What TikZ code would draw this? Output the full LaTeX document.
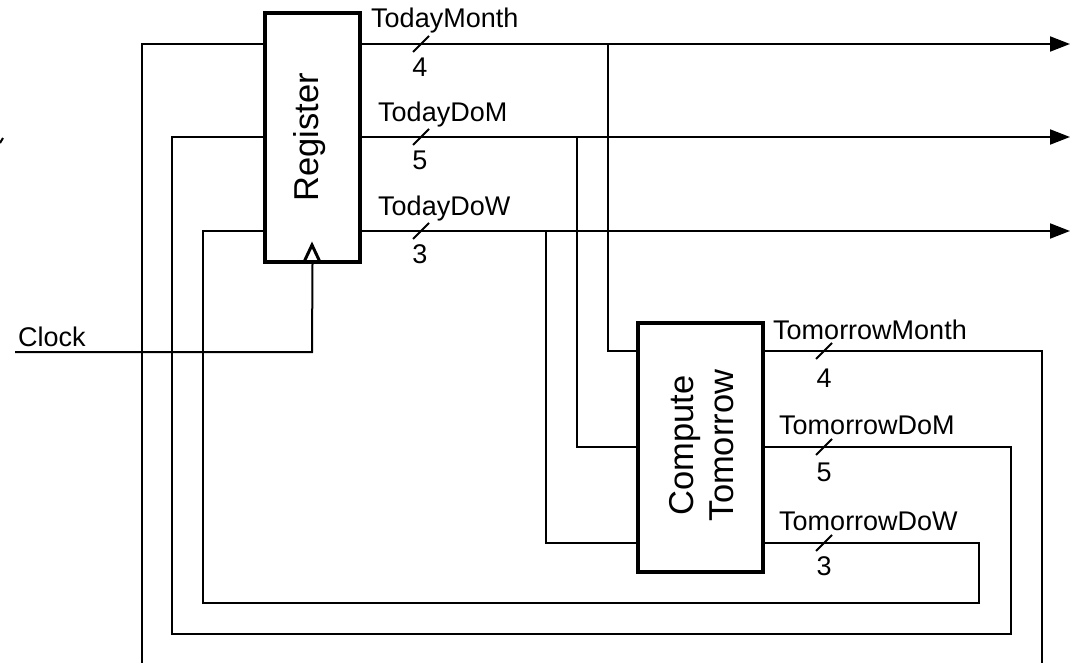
\documentclass[tikz,border=0pt]{standalone}
\usepackage{fontspec}
\setmainfont{Liberation Sans}
\usetikzlibrary{arrows.meta,calc}
\begin{document}
\begin{tikzpicture}[x=1pt,y=-1pt,
  wire/.style={line width=2pt},
  outarrow/.style={line width=2pt,-{Triangle[length=20pt,width=15pt]}},
  blockbox/.style={draw,line width=4pt,inner sep=0pt},
  lbl/.style={anchor=base west,inner sep=0pt,font=\fontsize{27}{32}\selectfont},
  numlbl/.style={inner sep=0pt,font=\fontsize{27}{32}\selectfont},
  boxtext/.style={rotate=90,align=center,inner sep=0pt,font=\fontsize{34.5}{40}\selectfont}]
\useasboundingbox (0,0) rectangle (1071,663);
% blocks
\node[blockbox,minimum width=95pt,minimum height=249pt] (reg) at (312.5,137.5) {};
\node[boxtext] (regt) at (310,137.5) {Register};
\node[blockbox,minimum width=125pt,minimum height=249pt] (comp) at (700.5,447.5) {};
\node[boxtext] (compt) at (701.5,445.5) {Compute\\Tomorrow};
% clock triangle
\draw[line width=3pt,line join=miter] (304,262) -- (312,245) -- (320,262);
% coordinates
\coordinate (oM) at (1070,44);
\coordinate (oD) at (1070,137);
\coordinate (oW) at (1070,231);
\coordinate (yM) at (0,44);
\coordinate (yD) at (0,137);
\coordinate (yW) at (0,231);
\coordinate (yTM) at (0,351);
\coordinate (yTD) at (0,447);
\coordinate (yTW) at (0,543);
\coordinate (bM) at (608,44);
\coordinate (bD) at (577,137);
\coordinate (bW) at (546,231);
\coordinate (clk) at (15,352);
\coordinate (endL) at (142,663);
\coordinate (endR) at (1042,663);
% outputs of register
\draw[outarrow] (reg.east |- yM) -- (oM);
\draw[outarrow] (reg.east |- yD) -- (oD);
\draw[outarrow] (reg.east |- yW) -- (oW);
% branches into compute
\draw[wire] (bM) -- (bM |- yTM) -- (comp.west |- yTM);
\draw[wire] (bD) -- (bD |- yTD) -- (comp.west |- yTD);
\draw[wire] (bW) -- (bW |- yTW) -- (comp.west |- yTW);
% feedback loops
\draw[wire] (endL) -- (142,44) -- (reg.west |- yM);
\draw[wire] (comp.east |- yTM) -- (1042,351) -- (endR);
\draw[wire] (comp.east |- yTD) -- (1011,447) -- (1011,634) -- (172,634) -- (172,137) -- (reg.west |- yD);
\draw[wire] (comp.east |- yTW) -- (979,543) -- (979,603) -- (203,603) -- (203,231) -- (reg.west |- yW);
% clock
\draw[wire] (clk) -- (312,352) -- (reg.south);
\node[lbl] (clkl) at (18,346) {Clock};
% bus slashes
\foreach \x/\y in {421/44,421/137,421/231,824/351,824/447,824/543}
  \draw[wire] (\x-8,\y+8) -- ++(16,-16);
\draw[wire] (0,143) -- (3,138);
% labels
\node[lbl] (l1) at (371,28) {TodayMonth};
\node[lbl] (l2) at (378,122) {TodayDoM};
\node[lbl] (l3) at (378,216) {TodayDoW};
\node[numlbl] (n1) at (420,67) {4};
\node[numlbl] (n2) at (420,160) {5};
\node[numlbl] (n3) at (420,254) {3};
\node[lbl] (l4) at (773,339) {TomorrowMonth};
\node[lbl] (l5) at (779,434) {TomorrowDoM};
\node[lbl] (l6) at (779,530) {TomorrowDoW};
\node[numlbl] (n4) at (824,378) {4};
\node[numlbl] (n5) at (824,472) {5};
\node[numlbl] (n6) at (824,566) {3};
\end{tikzpicture}
\end{document}
